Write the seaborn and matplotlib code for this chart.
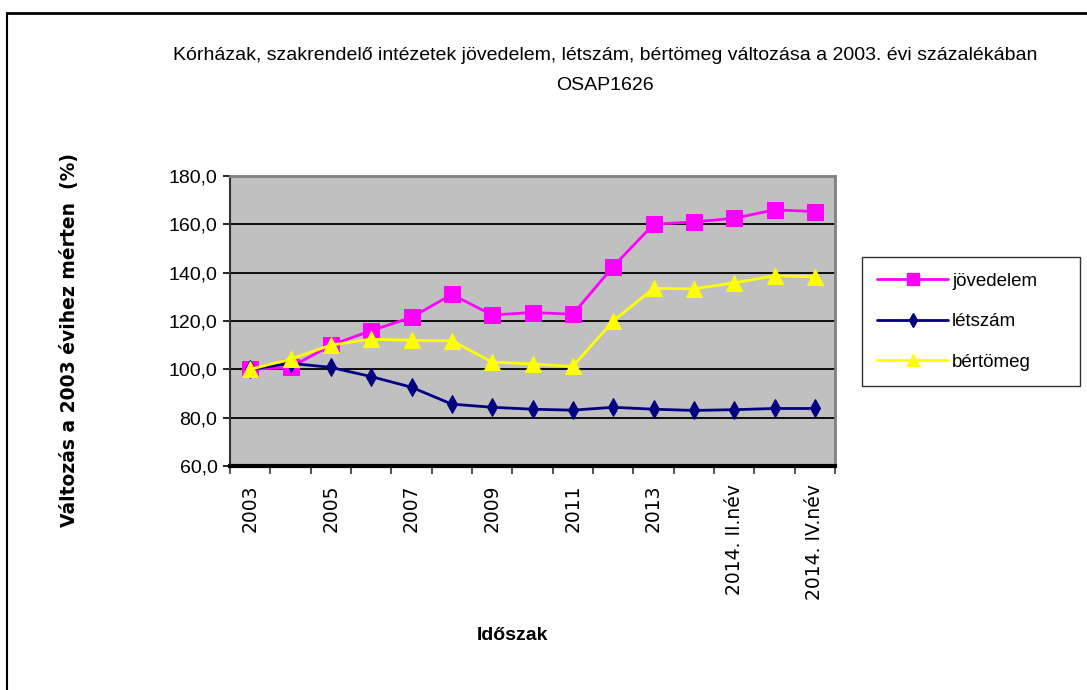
import numpy as np
import pandas as pd
import matplotlib
matplotlib.use("Agg")
import matplotlib.pyplot as plt
from matplotlib.lines import Line2D
import seaborn as sns

# Data (2003 = 100)
periods = ['2003', '2004', '2005', '2006', '2007', '2008', '2009', '2010',
           '2011', '2012', '2013', '2014. I.név', '2014. II.név',
           '2014. III.név', '2014. IV.név']
jovedelem = [100.0, 100.8, 110.0, 116.0, 121.5, 131.0, 122.5, 123.5,
             122.8, 142.5, 160.0, 161.0, 162.5, 166.0, 165.3]
letszam = [100.0, 102.5, 100.8, 97.0, 92.6, 85.6, 84.3, 83.5,
           83.1, 84.3, 83.5, 83.0, 83.3, 83.8, 83.8]
bertomeg = [100.0, 104.2, 110.0, 112.5, 112.0, 111.8, 103.0, 102.2,
            101.2, 120.0, 133.5, 133.3, 135.8, 138.7, 138.3]

series = {
    'jövedelem': (jovedelem, '#FF00FF', 's', 11),
    'létszám': (letszam, '#000080', 'd', 9),
    'bértömeg': (bertomeg, '#FFFF00', '^', 11),
}

sns.set_theme(style='white')
plt.rcParams['font.family'] = ['Liberation Sans', 'DejaVu Sans']
plt.rcParams['text.color'] = 'black'
plt.rcParams['xtick.color'] = 'black'
plt.rcParams['ytick.color'] = 'black'

fig = plt.figure(figsize=(10.87, 6.90), dpi=100)
ax = fig.add_axes([230 / 1087, 1 - 466 / 690, 605 / 1087, 290 / 690])
ax.set_facecolor('#C0C0C0')

x = np.arange(len(periods))
for name, (vals, color, marker, ms) in series.items():
    df = pd.DataFrame({'x': x, 'y': vals})
    sns.lineplot(data=df, x='x', y='y', ax=ax, color=color, marker=marker,
                 markersize=ms, markeredgecolor=color, linewidth=2.0,
                 label=name, legend=False)

ax.set_ylim(60, 180)
ax.set_xlim(-0.5, len(periods) - 0.5)
yt = np.arange(60, 181, 20)
ax.set_yticks(yt)
ax.set_yticklabels([f'{v:.1f}'.replace('.', ',') for v in yt], fontsize=14)
for v in yt[1:]:
    ax.axhline(v, color='black', linewidth=1.3, zorder=0.5)

# tick marks on category boundaries, labels on every second category
ax.set_xticks(np.arange(-0.5, len(periods), 1.0))
ax.set_xticklabels([''] * (len(periods) + 1))
ax.set_xticks(x[::2], minor=True)
ax.set_xticklabels(periods[::2], minor=True, rotation=90, fontsize=13.5,
                   va='top', ha='center', family='DejaVu Sans')
ax.tick_params(axis='x', which='major', direction='out', length=6,
               width=1.2, color='#333333', bottom=True)
ax.tick_params(axis='x', which='minor', length=0, pad=13, bottom=True)
ax.tick_params(axis='y', direction='out', length=5, width=1.2,
               color='black', left=True, pad=4)
ax.set_xlabel('')
ax.set_ylabel('')

for side in ['top', 'right']:
    ax.spines[side].set_color('#808080')
    ax.spines[side].set_linewidth(2)
ax.spines['left'].set_color('#333333')
ax.spines['left'].set_linewidth(1.5)
ax.spines['bottom'].set_color('black')
ax.spines['bottom'].set_linewidth(3)

# legend box on the right
handles = [Line2D([], [], color=c, marker=m, markersize=ms * 0.75,
                  linewidth=2.0, markeredgecolor=c)
           for (_, c, m, ms) in series.values()]
leg = fig.legend(handles, list(series.keys()),
                 bbox_to_anchor=(862 / 1087, 1 - 387 / 690,
                                 218 / 1087, 131 / 690),
                 loc='center left', mode='expand', fontsize=13.5,
                 frameon=True, fancybox=False, shadow=False,
                 handlelength=3.8, handletextpad=0.2, labelspacing=1.25,
                 borderpad=0.8, borderaxespad=0)
leg.get_frame().set_edgecolor('black')
leg.get_frame().set_linewidth(1.0)

fig.text(605 / 1087, 1 - 55 / 690,
         'Kórházak, szakrendelő intézetek jövedelem, létszám, bértömeg '
         'változása a 2003. évi százalékában',
         ha='center', va='center', fontsize=14)
fig.text(605 / 1087, 1 - 85 / 690, 'OSAP1626', ha='center', va='center',
         fontsize=14)
fig.text(70 / 1087, 1 - 340 / 690, 'Változás a 2003 évihez mérten  (%)',
         rotation=90, ha='center', va='center', fontsize=13.5,
         fontweight='bold', family='DejaVu Sans')
fig.text(512 / 1087, 1 - 635 / 690, 'Időszak', ha='center', va='center',
         fontsize=14, fontweight='bold')

# outer frame (top and left edges)
fig.add_artist(Line2D([7 / 1087, 1], [1 - 13 / 690, 1 - 13 / 690],
                      color='black', linewidth=2))
fig.add_artist(Line2D([7 / 1087, 7 / 1087], [0, 1 - 13 / 690],
                      color='black', linewidth=1.5))

fig.savefig('out.png', dpi=100, facecolor='white')
